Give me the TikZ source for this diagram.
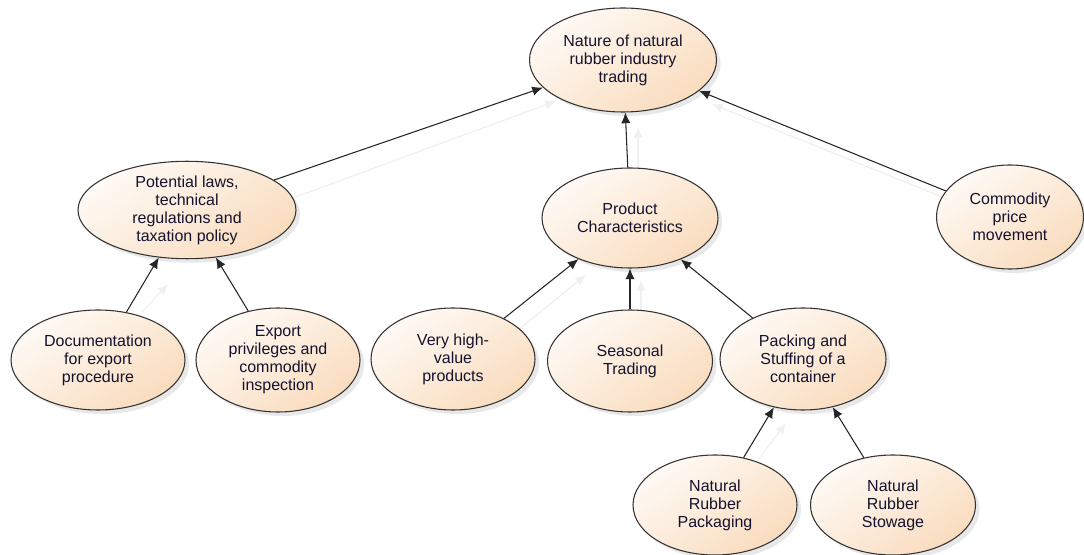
\documentclass[tikz,border=0pt]{standalone}
\usepackage{fontspec}
\setmainfont{Liberation Sans}
\usetikzlibrary{shapes.geometric,arrows.meta,shadows}
\definecolor{bubLight}{HTML}{FFFAF5}
\definecolor{bubPeach}{HTML}{F9DCBE}
\definecolor{bubEdge}{HTML}{333333}
\definecolor{txt}{HTML}{14122E}
\tikzset{
  bub/.style 2 args={ellipse, draw=bubEdge, line width=0.8pt,
    top color=bubLight, bottom color=bubPeach, shading angle=35,
    drop shadow={shadow xshift=3pt, shadow yshift=-3pt, fill=black!30, opacity=0.3},
    minimum width={#1*0.75pt}, minimum height={#2*0.75pt}, inner sep=0pt,
    align=center, text=txt, font=\fontsize{12}{13.5}\selectfont},
  conn/.style={draw=black!85, line width=0.8pt, -{Latex[length=8pt,width=7pt]}},
  ghost/.style={draw=black!6, line width=1pt, -{Latex[length=8pt,width=7pt]}}
}
\begin{document}
\begin{tikzpicture}[x=0.75pt,y=-0.75pt]
\useasboundingbox (0,0) rectangle (1084,555);
% ghost shadow connectors (faint)
\coordinate (gpa) at (293,198); \coordinate (gpb) at (556,101);
\draw[ghost] (gpa) -- (gpb);
\coordinate (gqa) at (638,168); \coordinate (gqb) at (638,127);
\draw[ghost] (gqa) -- (gqb);
\coordinate (gca) at (940,196); \coordinate (gcb) at (712,104);
\draw[ghost] (gca) -- (gcb);
\coordinate (gda) at (142,312); \coordinate (gdb) at (168,284);
\draw[ghost] (gda) -- (gdb);
\coordinate (gva) at (518,330); \coordinate (gvb) at (586,275);
\draw[ghost] (gva) -- (gvb);
\coordinate (gsa) at (641,310); \coordinate (gsb) at (641,280);
\draw[ghost] (gsa) -- (gsb);
\coordinate (gka) at (758,460); \coordinate (gkb) at (786,423);
\draw[ghost] (gka) -- (gkb);
% nodes
\node[bub={187}{104}] (nat) at (623,60) {Nature of natural\\rubber industry\\trading};
\node[bub={218}{90}] (pot) at (187,210) {Potential laws,\\technical\\regulations and\\taxation policy};
\node[bub={176}{100}] (prod) at (630,218) {Product\\Characteristics};
\node[bub={147}{104}] (com) at (1010,217) {Commodity\\price\\movement};
\node[bub={174}{100}] (doc) at (98,360) {Documentation\\for export\\procedure};
\node[bub={164}{104}] (exp) at (278,360) {Export\\privileges and\\commodity\\inspection};
\node[bub={164}{102}] (vhv) at (453,359) {Very high-\\value\\products};
\node[bub={165}{102}] (sea) at (630,361) {Seasonal\\Trading};
\node[bub={166}{102}] (pack) at (803,359) {Packing and\\Stuffing of a\\container};
\node[bub={164}{100}] (nrp) at (715,505) {Natural\\Rubber\\Packaging};
\node[bub={165}{100}] (nrs) at (893,505) {Natural\\Rubber\\Stowage};
% connectors
\draw[conn] (pot) -- (nat);
\draw[conn] (prod) -- (nat);
\draw[conn] (com) -- (nat);
\draw[conn] (doc) -- (pot);
\draw[conn] (exp) -- (pot);
\draw[conn] (vhv) -- (prod);
\draw[conn] (sea) -- (prod);
\draw[conn] (pack) -- (prod);
\draw[conn] (nrp) -- (pack);
\draw[conn] (nrs) -- (pack);
\end{tikzpicture}
\end{document}
